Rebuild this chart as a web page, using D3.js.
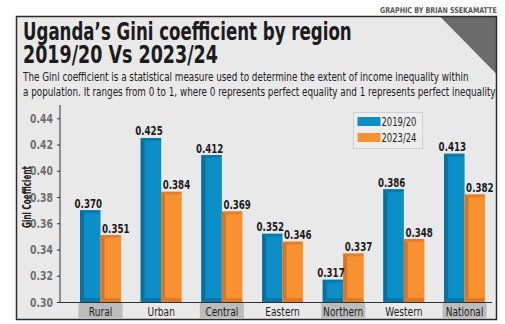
<!DOCTYPE html>
<html>
<head>
<meta charset="utf-8">
<script src="https://cdn.jsdelivr.net/npm/d3@7"></script>
<style>
  body { margin: 0; background: #fff; }
  svg { display: block; font-family: "DejaVu Sans Condensed", "DejaVu Sans", sans-serif; }
</style>
</head>
<body>
<script>
// Gini coefficient by region
var regions = ["Rural", "Urban", "Central", "Eastern", "Northern", "Western", "National"];
var gini2019 = [0.370, 0.425, 0.412, 0.352, 0.317, 0.386, 0.413];
var gini2023 = [0.351, 0.384, 0.369, 0.346, 0.337, 0.348, 0.382];
var seriesNames = ["2019/20", "2023/24"];
var yTicks = [0.30, 0.32, 0.34, 0.36, 0.38, 0.40, 0.42, 0.44];

var W = 505, H = 324;
var colors = ["#0c8ec6", "#fa9130"];
var darkColors = ["#0870a0", "#d4772a"];

var svg = d3.select("body").append("svg")
  .attr("width", W)
  .attr("height", H);

// squeeze text horizontally (no condensed webfont available)
function squeeze(sel, k, rot) {
  sel.each(function() {
    var t = d3.select(this);
    var x = +t.attr("x") || 0, y = +t.attr("y") || 0;
    t.attr("x", 0).attr("y", 0)
      .attr("transform", "translate(" + x + "," + y + ")" + (rot ? " rotate(" + rot + ")" : "") + " scale(" + k + ",1)");
  });
}
function fitWidth(sel, w, rot) {
  sel.each(function() {
    squeeze(d3.select(this), w / this.getComputedTextLength(), rot);
  });
}

// panel with grey background + corner tab
svg.append("rect")
  .attr("x", 16.5).attr("y", 16.5)
  .attr("width", 480).attr("height", 303)
  .attr("fill", "#e9e9e9");
svg.append("path")
  .attr("d", "M440,16.5 L496.5,16.5 L496.5,74 Z")
  .attr("fill", "#6b6b6b");
svg.append("rect")
  .attr("x", 16.5).attr("y", 16.5)
  .attr("width", 480).attr("height", 303)
  .attr("fill", "none")
  .attr("stroke", "#2b2b2b")
  .attr("stroke-width", 1.5);

svg.append("text")
  .attr("x", 380).attr("y", 12.5)
  .attr("font-size", 8)
  .attr("font-weight", "bold")
  .attr("fill", "#555")
  .text("GRAPHIC BY BRIAN SSEKAMATTE")
  .call(fitWidth, 117);

svg.append("text")
  .attr("x", 23).attr("y", 40)
  .attr("font-size", 24).attr("font-weight", "bold").attr("fill", "#1c1c1c")
  .text("Uganda\u2019s Gini coefficient by region")
  .call(fitWidth, 329);
svg.append("text")
  .attr("x", 23).attr("y", 63)
  .attr("font-size", 24).attr("font-weight", "bold").attr("fill", "#1c1c1c")
  .text("2019/20 Vs 2023/24")
  .call(fitWidth, 195);
svg.append("text")
  .attr("x", 23).attr("y", 80.5)
  .attr("font-size", 11.5).attr("fill", "#222")
  .text("The Gini coefficient is a statistical measure used to determine the extent of income inequality within")
  .call(fitWidth, 446);
svg.append("text")
  .attr("x", 23).attr("y", 96)
  .attr("font-size", 11.5).attr("fill", "#222")
  .text("a population. It ranges from 0 to 1, where 0 represents perfect equality and 1 represents perfect inequality")
  .call(fitWidth, 473);

// scales
var x = d3.scaleBand()
  .domain(regions)
  .range([70.2, 494.9])
  .paddingInner(0.324)
  .paddingOuter(0.162);
var xSub = d3.scaleBand()
  .domain(seriesNames)
  .range([0, x.bandwidth()]);
var y = d3.scaleLinear()
  .domain([0.30, 0.44])
  .range([302, 118.3]);

var plot = svg.append("g");

// label boxes under alternate categories
plot.selectAll("rect.catbox")
  .data(regions.filter(function(d, i) { return i % 2 === 0; }))
  .enter().append("rect")
  .attr("class", "catbox")
  .attr("x", function(d) { return x(d) - 1.5; })
  .attr("y", 303)
  .attr("width", x.bandwidth() + 3)
  .attr("height", 16)
  .attr("fill", "#bcbcbc");

plot.selectAll("text.cat")
  .data(regions)
  .enter().append("text")
  .attr("class", "cat")
  .attr("x", function(d) { return x(d) + x.bandwidth() / 2; })
  .attr("y", 316)
  .attr("text-anchor", "middle")
  .attr("font-size", 12)
  .attr("fill", "#1e1e1e")
  .text(function(d) { return d; })
  .call(squeeze, 0.84);

// bar data
var bars = [];
regions.forEach(function(r, i) {
  bars.push({region: r, s: 0, value: gini2019[i]});
  bars.push({region: r, s: 1, value: gini2023[i]});
});

var bw = xSub.bandwidth();
function barX(d) { return x(d.region) + xSub(seriesNames[d.s]); }

var barG = plot.selectAll("g.bar")
  .data(bars)
  .enter().append("g")
  .attr("class", "bar")
  .attr("transform", function(d) { return "translate(" + barX(d) + ",0)"; });

barG.append("rect")
  .attr("x", 0)
  .attr("y", function(d) { return y(d.value); })
  .attr("width", bw)
  .attr("height", function(d) { return y(0.30) - y(d.value); })
  .attr("fill", function(d) { return colors[d.s]; });
// shaded left face
barG.append("path")
  .attr("d", function(d) {
    var t = y(d.value), b = y(0.30);
    return "M0," + t + " L4," + (t + 3) + " L4," + (b - 4) + " L0," + b + " Z";
  })
  .attr("fill", function(d) { return darkColors[d.s]; });
// top bevel
barG.append("path")
  .attr("d", function(d) {
    var t = y(d.value);
    return "M0," + t + " L" + bw + "," + t + " L" + (bw - 1) + "," + (t + 2.5) + " L4," + (t + 3) + " Z";
  })
  .attr("fill", function(d) { return darkColors[d.s]; })
  .attr("opacity", 0.7);
// bottom bevel
barG.append("path")
  .attr("d", function(d) {
    var b = y(0.30);
    return "M4," + (b - 4) + " L" + (bw - 1) + "," + (b - 4) + " L" + bw + "," + b + " L0," + b + " Z";
  })
  .attr("fill", function(d) { return darkColors[d.s]; })
  .attr("opacity", 0.8);

// value labels on top of all bars; first series nudged left, second right
var labelShift = [-2, 5];
plot.selectAll("text.val")
  .data(bars)
  .enter().append("text")
  .attr("class", "val")
  .attr("x", function(d) { return barX(d) + bw / 2 + labelShift[d.s]; })
  .attr("y", function(d) { return y(d.value) - 2.5; })
  .attr("text-anchor", "middle")
  .attr("font-size", 12)
  .attr("font-weight", "bold")
  .attr("fill", "#1a1a1a")
  .text(function(d) { return d.value.toFixed(3); })
  .call(fitWidth, 27.5);

// axes
var yAxis = d3.axisLeft(y)
  .tickValues(yTicks)
  .tickSize(3)
  .tickPadding(4)
  .tickFormat(d3.format(".2f"));
var yG = svg.append("g")
  .attr("transform", "translate(60,0)")
  .call(yAxis);
yG.select(".domain").attr("d", "M0,105 L0,302").attr("stroke", "#333");
yG.selectAll(".tick line").attr("stroke", "#333");
yG.selectAll(".tick text")
  .attr("font-size", 12)
  .attr("font-weight", "bold")
  .attr("fill", "#6e6e6e")
  .attr("font-family", "\"DejaVu Sans Condensed\", sans-serif")
  .attr("y", 0).attr("dy", "0.35em")
  .call(squeeze, 0.86);

svg.append("line")
  .attr("x1", 60).attr("x2", 492)
  .attr("y1", 302.5).attr("y2", 302.5)
  .attr("stroke", "#333");

svg.append("text")
  .attr("x", 30.5).attr("y", 197)
  .attr("text-anchor", "middle")
  .attr("font-size", 11.5)
  .attr("font-weight", "bold")
  .attr("fill", "#222")
  .text("Gini Coefficient")
  .call(fitWidth, 62, -90);

// legend
var leg = svg.append("g").attr("transform", "translate(353.5,112.5)");
leg.append("rect")
  .attr("width", 69).attr("height", 36)
  .attr("fill", "#ededed")
  .attr("stroke", "#cfcfcf");
leg.selectAll("rect.sw")
  .data(seriesNames)
  .enter().append("rect")
  .attr("class", "sw")
  .attr("x", 4).attr("y", function(d, i) { return 4.5 + i * 16; })
  .attr("width", 23).attr("height", 9)
  .attr("fill", function(d, i) { return colors[i]; });
leg.selectAll("text")
  .data(seriesNames)
  .enter().append("text")
  .attr("x", 28).attr("y", function(d, i) { return 13.5 + i * 16; })
  .attr("font-size", 12)
  .attr("fill", "#1e1e1e")
  .text(function(d) { return d; })
  .call(fitWidth, 35);
</script>
</body>
</html>
